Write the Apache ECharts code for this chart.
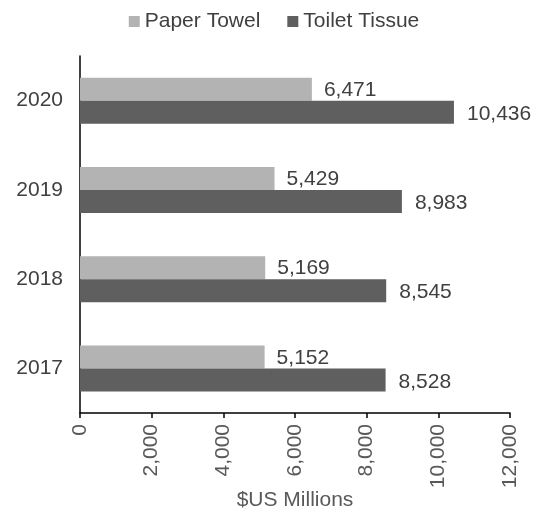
<!DOCTYPE html>
<html><head><meta charset="utf-8">
<script src="https://cdn.jsdelivr.net/npm/echarts@6/dist/echarts.min.js"></script>
<style>html,body{margin:0;padding:0;background:#fff}#c{width:548px;height:509px}</style>
</head><body><div id="c"></div>
<script>
const categories = ['2017', '2018', '2019', '2020'];
const paperTowel = [5152, 5169, 5429, 6471];
const toiletTissue = [8528, 8545, 8983, 10436];
const xTicks = { min: 0, max: 12000, interval: 2000 };
const font = 'Liberation Sans, Arial, sans-serif';
const chart = echarts.init(document.getElementById('c'));
const fmt = v => v.toLocaleString('en-US');
chart.setOption({
  animation: false,
  textStyle: { fontFamily: font },
  legend: {
    top: 6, left: 'center', itemWidth: 11, itemHeight: 11, itemGap: 27,
    icon: 'rect',
    textStyle: { fontSize: 21, color: '#404040', fontFamily: font },
    data: ['Paper Towel', 'Toilet Tissue']
  },
  grid: { left: 80, right: 38, top: 56, bottom: 96, containLabel: false, outerBoundsMode: 'none' },
  xAxis: {
    type: 'value', min: xTicks.min, max: xTicks.max, interval: xTicks.interval,
    name: '$US Millions', nameLocation: 'middle', nameGap: 77, nameMoveOverlap: false,
    nameTextStyle: { fontSize: 21, color: '#595959', fontFamily: font },
    axisLine: { show: true, lineStyle: { color: '#000', width: 1.5 } },
    axisTick: { show: true, length: 5, lineStyle: { color: '#000', width: 1.5 } },
    splitLine: { show: false },
    axisLabel: { rotate: 90, fontSize: 21, color: '#595959', margin: 11, fontFamily: font, formatter: v => fmt(v) }
  },
  yAxis: {
    type: 'category', data: categories,
    axisLine: { show: true, lineStyle: { color: '#000', width: 1.5 } },
    axisTick: { show: false },
    axisLabel: { fontSize: 21, color: '#404040', margin: 17, fontFamily: font }
  },
  series: [
    { name: 'Paper Towel', type: 'bar', data: paperTowel, barWidth: 23, barGap: '0%',
      itemStyle: { color: '#b3b3b3' },
      label: { show: true, position: 'right', distance: 12, offset: [0, 1], fontSize: 21, color: '#404040', fontFamily: font, formatter: p => fmt(p.value) } },
    { name: 'Toilet Tissue', type: 'bar', data: toiletTissue, barWidth: 23,
      itemStyle: { color: '#5f5f5f' },
      label: { show: true, position: 'right', distance: 13, offset: [0, 2], fontSize: 21, color: '#404040', fontFamily: font, formatter: p => fmt(p.value) } }
  ]
});
</script></body></html>
